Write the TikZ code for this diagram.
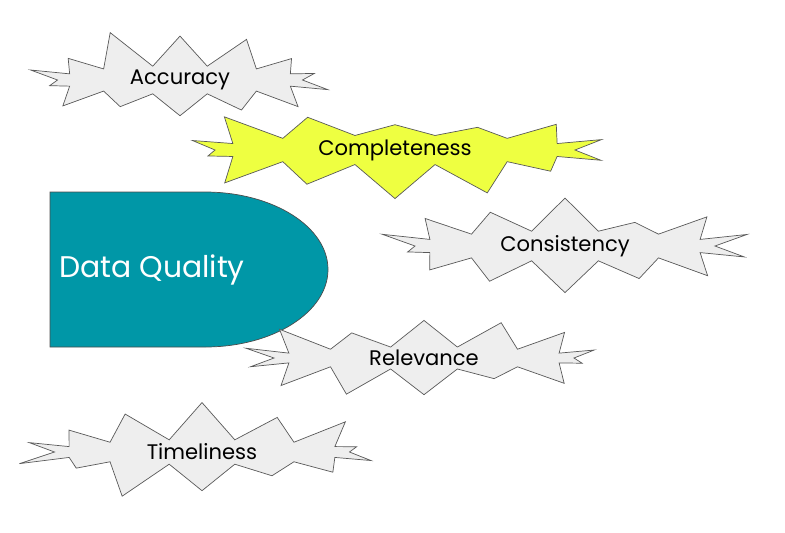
\documentclass[tikz,border=0pt]{standalone}
\usepackage{fontspec}
\setmainfont{Poppins}
\usetikzlibrary{shapes.symbols}
\definecolor{burstgray}{HTML}{EEEEEE}
\definecolor{burstyellow}{HTML}{EEFF41}
\definecolor{dqteal}{HTML}{0097A7}

\begin{document}
\begin{tikzpicture}[x=0.02cm,y=-0.02cm]
  \tikzset{burst/.style={starburst,draw=black!65,fill=burstgray,
      starburst points=14,starburst point height=0.8cm,
      inner sep=0pt,font=\fontsize{12}{14}\selectfont},
    yellow burst/.style={burst,fill=burstyellow}}
  \useasboundingbox (0,0) rectangle (785,532);

  % the quality block
  \path[fill=dqteal,draw=black!70] (50,192) -- (205,192)
    arc[start angle=-90,end angle=90,x radius=123,y radius=77.5]
    -- (50,347) -- cycle;
  \node[text=white,font=\fontsize{17}{20}\selectfont] (dq) at (152,270) {Data Quality};

  % the dimensions
  \node[burst,random starburst=11,minimum width=6.5cm,minimum height=2.1cm] (acc) at (180,80) {Accuracy};
  \node[yellow burst,random starburst=23,minimum width=8.8cm,minimum height=2cm] (comp) at (395,150) {Completeness};
  \node[burst,random starburst=37,minimum width=7.6cm,minimum height=2.1cm] (cons) at (565,246) {Consistency};
  \node[burst,random starburst=41,minimum width=7.6cm,minimum height=2.05cm] (rel) at (424,358) {Relevance};
  \node[burst,random starburst=53,minimum width=7.5cm,minimum height=2.1cm] (time) at (202,452) {Timeliness};
\end{tikzpicture}
\end{document}
